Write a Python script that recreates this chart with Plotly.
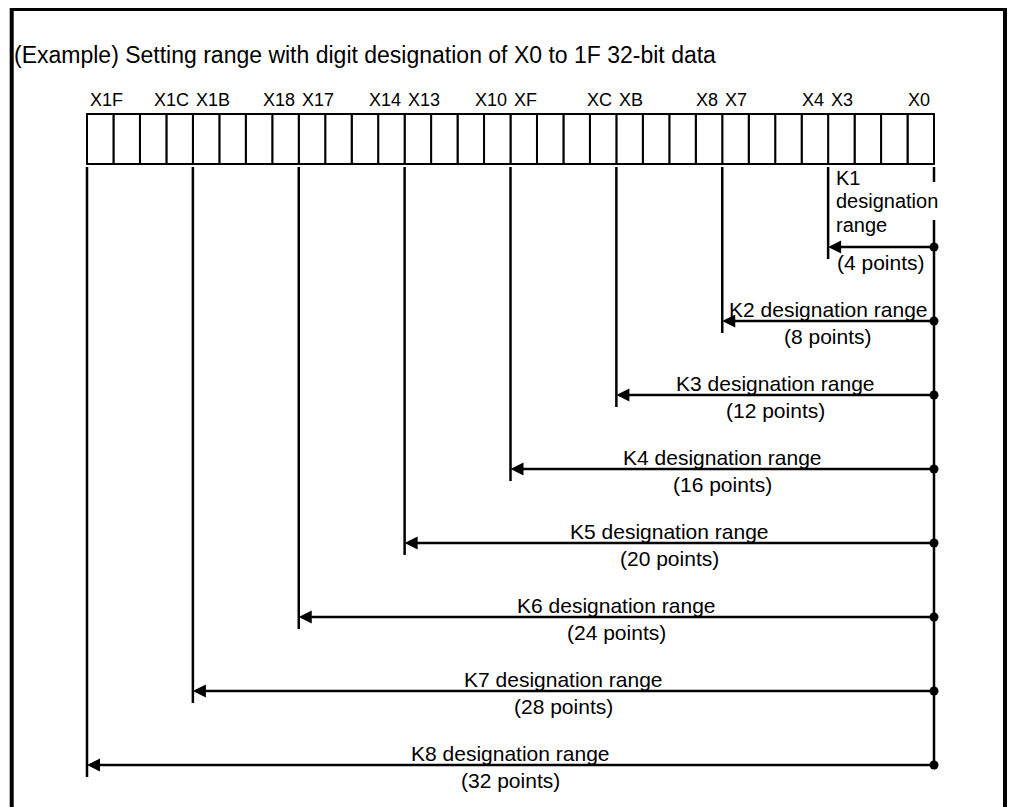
import plotly.graph_objects as go

# ── data ──
TITLE = "(Example) Setting range with digit designation of X0 to 1F 32-bit data"
N_BITS = 32
BIT_LABELS = ["X1F", "X1C", "X1B", "X18", "X17", "X14", "X13", "X10",
              "XF", "XC", "XB", "X8", "X7", "X4", "X3", "X0"]
LABEL_BITS = [31, 28, 27, 24, 23, 20, 19, 16, 15, 12, 11, 8, 7, 4, 3, 0]
K_DIGITS = [1, 2, 3, 4, 5, 6, 7, 8]
K_POINTS = [4, 8, 12, 16, 20, 24, 28, 32]

# ── layout in pixels (page coords; the page body adds an 8px margin) ──
OFF = 8
W, H = 1016 - 2 * OFF, 807 - OFF
BOX_L, BOX_R = 87 - OFF, 934 - OFF      # bit box left/right edge
ROW1_Y, ROW_STEP = 247 - OFF, 74        # first arrow row, row spacing
PX_X = (BOX_R - BOX_L) / N_BITS

FONT = "Liberation Sans, Arial, sans-serif"
BLACK = "#000000"


def ypx(p):
    """page pixel row -> y units (row 1 = first arrow)"""
    return 1 + (p - OFF - ROW1_Y) / ROW_STEP


def xpx(p):
    """page pixel column -> x units (bit cells)"""
    return (p - OFF - BOX_L) / PX_X


def cell(bit):
    return N_BITS - 1 - bit


fig = go.Figure()

# ── bit box ──
for b in range(N_BITS):
    k = cell(b)
    fig.add_shape(type="rect", x0=k, x1=k + 1, y0=ypx(114), y1=ypx(164),
                  line=dict(color=BLACK, width=2), fillcolor="white", layer="below")

# ── bit labels ──
for lab, b in zip(BIT_LABELS, LABEL_BITS):
    k = cell(b)
    if b % 4 == 0:   # right-hand cell of a nibble: text ends at its right edge
        x, anchor, shift = k + 1, "right", -2
    else:            # left-hand cell: text starts at its left edge
        x, anchor, shift = k, "left", 1
    fig.add_annotation(x=x, y=ypx(100), text=lab, showarrow=False,
                       xanchor=anchor, yanchor="middle", xshift=shift,
                       font=dict(family=FONT, size=18, color=BLACK))

# ── vertical range lines ──
vx, vy = [], []
top = ypx(167)
for pts, row in zip(K_POINTS, K_DIGITS):
    x = N_BITS - pts
    vx += [x, x, None]
    vy += [top, row + 12 / ROW_STEP, None]
# X0 line, broken behind the K1 text
vx += [N_BITS, N_BITS, None, N_BITS, N_BITS]
vy += [top, ypx(182), None, ypx(220), K_DIGITS[-1]]
fig.add_trace(go.Scatter(x=vx, y=vy, mode="lines",
                         line=dict(color=BLACK, width=2.5), hoverinfo="skip"))

# ── dots at X0 end ──
fig.add_trace(go.Scatter(x=[N_BITS] * len(K_DIGITS), y=K_DIGITS, mode="markers",
                         marker=dict(color=BLACK, size=9), hoverinfo="skip"))

# ── arrows + texts ──
for n, pts, row in zip(K_DIGITS, K_POINTS, K_DIGITS):
    x_left = N_BITS - pts
    fig.add_annotation(x=x_left, y=row, ax=N_BITS, ay=row, axref="x", ayref="y",
                       text="", showarrow=True, arrowhead=2, arrowsize=1,
                       arrowwidth=2.6, arrowcolor=BLACK, standoff=0)
    mid = (x_left + N_BITS) / 2
    if n == 1:
        for txt, dy in [("K1", 69), ("designation", 46), ("range", 22)]:
            fig.add_annotation(x=x_left, y=row, text=txt, showarrow=False,
                               xanchor="left", yanchor="middle", xshift=6, yshift=dy,
                               font=dict(family=FONT, size=20, color=BLACK))
    else:
        fig.add_annotation(x=mid, y=row, text=f"K{n} designation range",
                           showarrow=False, xanchor="center", yanchor="middle",
                           yshift=12, font=dict(family=FONT, size=21, color=BLACK))
    fig.add_annotation(x=mid, y=row, text=f"({pts} points)",
                       showarrow=False, xanchor="center", yanchor="middle",
                       yshift=-15, font=dict(family=FONT, size=21, color=BLACK))

# ── title ──
fig.add_annotation(x=xpx(12), y=ypx(55), text=TITLE, showarrow=False,
                   xanchor="left", yanchor="middle",
                   font=dict(family=FONT, size=23, color=BLACK))

# ── outer frame (bottom edge runs off the page) ──
fig.add_shape(type="rect", xref="paper", yref="paper",
              x0=(11.7 - OFF) / W, x1=(1005 - OFF) / W,
              y0=-0.2, y1=1 - (9 - OFF) / H,
              line=dict(color=BLACK, width=4))

fig.update_layout(
    width=W, height=H, autosize=False,
    margin=dict(l=0, r=0, t=0, b=0, pad=0),
    paper_bgcolor="white", plot_bgcolor="white",
    showlegend=False,
    xaxis=dict(range=[xpx(OFF), xpx(OFF + W)], visible=False, fixedrange=True),
    yaxis=dict(range=[ypx(OFF + H), ypx(OFF)], visible=False, fixedrange=True),
)

fig.write_html("out.html")
